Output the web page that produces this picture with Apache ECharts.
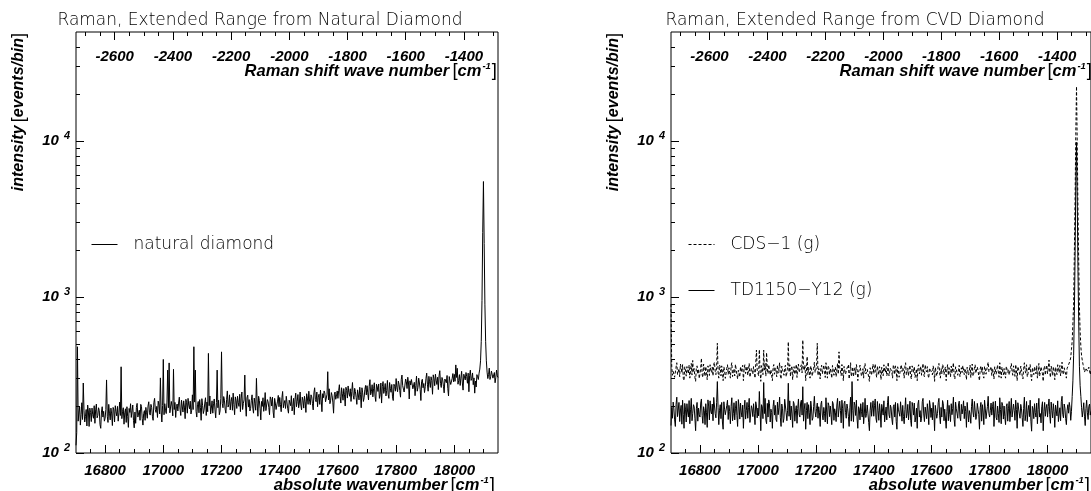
<!DOCTYPE html>
<html><head><meta charset="utf-8">
<script src="https://cdn.jsdelivr.net/npm/echarts@6/dist/echarts.min.js"></script>
<style>html,body{margin:0;padding:0;background:#fff}#c{width:1091px;height:491px}</style>
</head><body><div id="c"></div>
<script>
// ---- data (absolute wavenumber grid: xStart + i*xStep, cm^-1; 20 bins per row = 50 cm^-1) ----
const xStart = 16700, xStep = 2.5;
const laserWavenumber = 19433;
const natural = [
112,135,480,160,183,197,151,176,210,164,281,188,158,171,190,149,203,186,148,194,
182,159,194,176,167,201,155,189,206,168,174,195,187,152,144,183,198,170,185,160,
167,190,294,172,157,205,180,163,194,178,150,196,189,158,201,184,173,199,160,181,
212,174,357,166,185,195,153,181,192,157,198,172,146,193,182,207,169,186,203,162,
145,183,155,196,208,170,174,188,162,205,199,166,151,179,187,162,196,181,167,200,
213,181,175,205,196,172,162,210,224,190,182,199,169,215,203,178,303,186,158,201,
398,176,207,188,179,212,340,195,378,181,186,214,200,173,344,190,211,169,198,206,
186,209,228,191,174,218,200,183,216,197,166,221,210,180,224,203,192,215,178,188,
236,190,480,212,340,185,170,204,214,181,220,196,162,223,202,179,188,209,226,174,
212,184,435,201,232,178,194,216,180,207,222,189,168,211,340,195,218,176,186,224,
445,208,195,230,218,191,180,221,250,197,204,236,189,214,227,188,242,205,176,229,
216,193,231,210,199,238,184,225,246,190,208,219,316,203,172,226,235,197,220,186,
193,218,236,194,180,225,207,188,301,209,172,231,217,192,163,214,199,226,185,203,
244,187,191,220,213,196,176,229,221,200,228,183,168,224,209,190,195,215,234,198,
227,204,184,226,248,195,208,217,193,231,237,192,180,218,223,201,233,186,199,224,
176,221,242,198,214,237,195,209,246,203,189,228,218,194,231,213,182,240,225,205,
249,215,204,236,229,207,189,243,262,220,213,246,198,228,238,205,253,219,184,240,
226,250,242,213,209,238,332,219,258,207,218,244,233,212,180,236,246,221,231,250,
224,251,274,230,209,262,240,218,259,236,200,264,252,225,269,243,231,258,214,247,
283,233,221,260,248,227,205,254,257,219,264,238,195,262,243,214,226,255,271,236,
270,243,219,268,295,236,247,274,229,258,282,231,214,276,265,248,277,224,237,281,
209,266,287,241,255,279,232,251,292,238,224,283,260,245,275,229,217,276,267,249,
300,262,247,289,276,251,228,295,316,270,257,246,239,298,287,259,306,281,222,290,
273,296,292,258,252,284,233,270,311,249,263,302,281,256,217,288,297,262,279,244,
266,301,325,276,249,310,286,263,308,291,238,317,300,270,320,293,275,306,255,312,
337,279,263,305,294,268,243,298,306,282,314,260,232,309,289,275,269,301,323,286,
319,288,367,305,349,276,292,318,271,302,334,281,253,320,313,294,328,309,280,325,
247,315,340,292,301,326,274,303,242,289,265,318,308,296,325,345,390,520,950,2600,
5500,2200,900,520,390,330,300,318,350,296,310,335,345,302,296,328,282,305,340,312,
305];
const cds1 = [
900,360,315,334,342,306,298,355,379,318,325,348,308,372,352,326,369,301,291,357,
342,311,358,337,322,366,302,340,375,316,392,330,348,305,288,351,362,320,345,300,
322,351,405,318,305,372,338,310,358,333,295,362,348,314,368,339,328,356,312,370,
382,335,318,356,505,329,302,366,355,312,362,330,291,357,338,301,322,349,368,319,
352,327,302,361,379,309,332,347,312,370,365,318,298,339,348,307,358,331,322,365,
291,346,368,323,338,360,315,342,375,306,308,351,342,320,358,334,302,371,457,340,
345,312,460,335,288,363,348,318,457,340,375,311,440,349,322,368,358,316,342,333,
291,356,369,320,352,338,308,367,325,347,379,313,298,361,342,330,315,351,365,308,
312,343,516,329,368,310,348,362,295,341,358,319,338,370,305,352,372,328,322,357,
368,326,530,352,338,367,291,336,415,318,355,330,302,361,345,311,318,349,382,328,
322,357,505,314,348,330,298,352,365,321,312,366,332,305,379,339,302,364,352,318,
348,331,302,364,358,315,342,355,308,341,375,320,445,350,338,313,369,340,291,359,
365,320,315,349,342,368,298,334,379,309,325,356,308,339,352,317,369,345,291,330,
342,366,358,311,322,347,302,360,375,321,328,343,348,307,288,352,362,315,345,371,
322,344,372,326,305,361,338,317,358,336,295,354,348,313,368,340,328,358,312,329,
382,312,318,349,345,330,302,368,355,319,362,340,291,357,338,306,322,352,368,333,
352,338,302,360,379,316,332,351,312,344,365,309,298,362,348,327,358,305,322,346,
291,355,368,322,338,359,315,341,375,318,308,367,342,331,358,314,302,350,348,336,
345,317,362,339,288,354,348,312,328,363,375,326,302,347,322,370,358,318,342,356,
291,344,369,315,352,330,308,361,325,349,379,311,298,357,342,325,315,342,365,309,
312,352,328,363,368,318,348,332,295,355,358,316,338,366,305,343,372,311,322,349,
368,325,318,356,338,310,291,347,362,329,355,312,302,359,345,320,318,363,382,331,
322,346,358,314,348,330,298,357,365,320,312,367,332,306,379,338,302,355,352,317,
348,321,302,360,358,328,342,316,308,354,375,333,315,362,338,310,369,340,291,358,
365,330,315,361,342,312,298,347,379,336,325,368,308,322,352,340,369,314,291,352,
342,318,358,339,322,363,302,331,375,311,328,357,348,322,288,349,362,316,345,366,
322,349,394,330,305,361,338,314,358,336,295,355,348,318,368,341,328,364,312,338,
382,329,318,352,345,320,302,349,355,368,372,390,410,460,520,680,900,1900,4200,11000,
22400,9500,3600,1700,860,600,480,420,392,370,352,330,338,350,358,335,326,355,345,318,
340];
const td1150 = [
150,196,167,212,192,163,148,205,228,171,176,211,159,186,202,153,218,177,144,208,
191,158,207,183,170,217,154,189,224,161,179,204,198,167,139,192,211,160,194,176,
170,209,222,174,155,198,187,152,207,181,146,219,200,163,216,185,178,206,161,227,
231,179,168,210,287,195,152,188,204,166,211,158,142,213,191,176,172,201,218,164,
202,185,154,199,226,161,179,210,163,192,215,174,148,220,198,165,209,183,170,203,
144,190,218,165,187,211,167,196,224,157,159,201,192,171,207,180,152,213,200,168,
194,173,248,186,139,204,198,166,283,179,224,162,154,208,170,219,207,158,191,182,
144,199,218,175,202,164,159,212,176,195,228,168,148,206,192,157,167,221,215,181,
161,188,280,172,216,163,200,178,146,214,207,160,187,201,155,193,222,176,170,209,
218,175,266,160,191,208,142,187,211,166,204,181,152,215,194,162,168,199,231,184,
170,193,209,167,198,181,148,205,215,175,163,196,179,158,226,183,154,210,202,171,
200,176,152,214,207,162,192,181,159,203,224,170,167,215,187,156,218,192,144,207,
215,182,167,206,192,171,148,195,228,160,287,188,159,212,202,174,218,165,144,198,
191,163,207,185,170,211,154,178,224,169,179,203,198,157,139,188,211,172,194,216,
172,201,222,168,157,214,187,162,207,183,146,205,200,175,216,158,178,197,163,210,
231,176,168,203,194,165,152,198,204,170,211,159,142,208,191,181,172,213,218,160,
202,171,154,190,226,168,179,205,163,186,215,162,148,211,198,175,209,158,170,194,
144,206,218,170,187,158,167,213,224,178,159,197,192,166,207,183,152,217,200,169,
194,163,211,180,139,202,198,167,179,210,224,173,154,196,170,217,207,161,191,186,
144,185,218,161,202,177,159,207,176,193,228,164,148,212,192,180,167,203,215,170,
161,205,178,192,216,166,200,184,146,211,207,158,187,176,155,199,222,183,170,214,
218,164,172,208,191,177,142,195,211,160,204,183,152,218,194,166,168,199,231,179,
170,188,209,175,198,213,148,183,215,169,163,200,179,157,226,190,154,211,202,165,
200,171,152,198,207,160,192,214,159,186,224,170,167,206,187,162,218,190,144,210,
215,178,167,205,192,169,148,193,228,161,176,214,159,187,202,171,218,160,138,199,
191,166,207,182,170,209,154,190,224,170,179,156,198,213,139,184,211,172,194,205,
170,199,222,176,155,212,187,168,207,184,146,203,200,173,216,159,178,195,161,213,
231,177,168,206,194,166,152,188,204,180,211,196,162,185,230,290,420,780,1800,5200,
9800,4200,1500,700,360,270,230,195,170,188,210,172,150,193,218,181,164,199,206,175,
185];
const seriesNames = ['natural diamond', 'CDS\u22121 (g)', 'TD1150\u2212Y12 (g)'];
const absTickLabels = [16800,17000,17200,17400,17600,17800,18000];
const shiftTickLabels = [-2600,-2400,-2200,-2000,-1800,-1600,-1400];
const yDecadeExponents = [2,3,4];
const xMin = 16700, xMax = 18150, yMin = 100, yMax = 50000;
const panelTitles = ['Raman, Extended Range from Natural Diamond', 'Raman, Extended Range from CVD Diamond'];

// ---- helpers ----
const pairs = arr => arr.map((v, i) => [xStart + i * xStep, v]);
const absMinor = []; for (let v = 16750; v < xMax; v += 50) absMinor.push(v);
const shiftMinor = []; for (let v = -2700; v <= -1300; v += 50) shiftMinor.push(v);
const yLogMax = Math.log10(yMax);
const yMinorLog = [];
[100, 1000, 10000].forEach(d => { for (let k = 2; k <= 9; k++) { if (k * d < yMax) yMinorLog.push(Math.log10(k * d)); } });

const LBL = { fontFamily: 'Liberation Sans', fontStyle: 'italic', fontWeight: 'bold', fontSize: 15, color: '#000' };
const THIN = { fontFamily: 'DejaVu Sans', fontWeight: 200, color: '#000' };
const tickLine = { color: '#000', width: 1 };
const plain = v => String(v);

function nameRich(size) {
  return { b: Object.assign({}, LBL, { fontSize: size, lineHeight: 18, fill: '#000' }),
    n: { fontFamily: 'Liberation Sans', fontSize: size + 2, lineHeight: 18, fill: '#000' },
    s: Object.assign({}, LBL, { fontSize: 9.5, lineHeight: 9, padding: [0, 1, 9, 1], fill: '#000' }) };
}

const grids = [], xAxes = [], yAxes = [], series = [], graphics = [];
[76, 671].forEach((gl, p) => {
  grids.push({ left: gl, top: 32, width: 422, height: 421, show: true, borderColor: '#000', borderWidth: 1, backgroundColor: 'transparent' });
  const base = { gridIndex: p, type: 'value', splitLine: { show: false }, axisLine: { show: false } };
  xAxes.push(Object.assign({}, base, { position: 'bottom', min: xMin, max: xMax,
    axisTick: { show: true, inside: true, length: 8, customValues: absTickLabels, lineStyle: tickLine },
    axisLabel: Object.assign({ show: true, margin: 10, customValues: absTickLabels, formatter: plain }, LBL) }));
  xAxes.push(Object.assign({}, base, { position: 'bottom', min: xMin, max: xMax,
    axisTick: { show: true, inside: true, length: 4, customValues: absMinor, lineStyle: tickLine },
    axisLabel: { show: false } }));
  xAxes.push(Object.assign({}, base, { position: 'top', min: xMin - laserWavenumber, max: xMax - laserWavenumber,
    axisTick: { show: true, inside: true, length: 8, customValues: shiftTickLabels, lineStyle: tickLine },
    axisLabel: Object.assign({ show: true, inside: true, margin: 17, customValues: shiftTickLabels, formatter: plain }, LBL) }));
  xAxes.push(Object.assign({}, base, { position: 'top', min: xMin - laserWavenumber, max: xMax - laserWavenumber,
    axisTick: { show: true, inside: true, length: 4, customValues: shiftMinor, lineStyle: tickLine },
    axisLabel: { show: false } }));
  yAxes.push({ gridIndex: p, type: 'log', logBase: 10, min: yMin, max: yMax, position: 'left',
    axisLine: { show: false }, axisTick: { show: false }, axisLabel: { show: false }, splitLine: { show: false } });
  yAxes.push({ gridIndex: p, type: 'value', min: 2, max: yLogMax, position: 'left',
    axisLine: { show: false }, splitLine: { show: false },
    axisTick: { show: true, inside: true, length: 8, customValues: yDecadeExponents, lineStyle: tickLine },
    axisLabel: { show: true, margin: 6, customValues: yDecadeExponents,
      formatter: v => '{b|10}{s|' + Math.round(v) + '}',
      rich: { b: Object.assign({ lineHeight: 22 }, LBL),
              s: Object.assign({}, LBL, { fontSize: 11, lineHeight: 11, padding: [0, 0, 11, 5] }) } } });
  yAxes.push({ gridIndex: p, type: 'value', min: 2, max: yLogMax, position: 'left',
    axisLine: { show: false }, splitLine: { show: false },
    axisTick: { show: true, inside: true, length: 4, customValues: yMinorLog, lineStyle: tickLine },
    axisLabel: { show: false } });
  const dx = gl - 76;
  graphics.push({ type: 'text', x: 260 + dx, y: 21, style: { text: panelTitles[p], align: 'center', verticalAlign: 'middle', fontSize: 17, fontFamily: 'DejaVu Sans', fontWeight: 200, fill: '#000' } });
  graphics.push({ type: 'text', x: 497 + dx, y: 71, style: { text: '{b|Raman shift wave number} {n|[}{b|cm}{s|-1}{n|]}', rich: nameRich(16.5), align: 'right', verticalAlign: 'middle' } });
  graphics.push({ type: 'text', x: 495 + dx, y: 485, style: { text: '{b|absolute wavenumber} {n|[}{b|cm}{s|-1}{n|]}', rich: nameRich(16.5), align: 'right', verticalAlign: 'middle' } });
  graphics.push({ type: 'text', x: 19 + dx, y: 33, rotation: Math.PI / 2, style: { text: '{b|intensity} {n|[}{b|events/bin}{n|]}', rich: nameRich(16), align: 'right', verticalAlign: 'middle' } });
});

const lineBase = { type: 'line', symbol: 'none', showSymbol: false, animation: false, clip: true };
series.push(Object.assign({}, lineBase, { name: seriesNames[0], xAxisIndex: 0, yAxisIndex: 0, data: pairs(natural), lineStyle: { color: '#000', width: 1 }, itemStyle: { color: '#000' } }));
series.push(Object.assign({}, lineBase, { name: seriesNames[1], xAxisIndex: 4, yAxisIndex: 3, data: pairs(cds1), lineStyle: { color: '#000', width: 1, type: [3, 2] }, itemStyle: { color: '#000' } }));
series.push(Object.assign({}, lineBase, { name: seriesNames[2], xAxisIndex: 4, yAxisIndex: 3, data: pairs(td1150), lineStyle: { color: '#000', width: 1 }, itemStyle: { color: '#000' } }));

const legendText = Object.assign({ fontSize: 17, lineHeight: 14, rich: { g: { width: 11 } } }, THIN);
const legendBase = { orient: 'vertical', itemWidth: 26, itemHeight: 14, padding: 0, selectedMode: false,
  textStyle: legendText, formatter: n => '{g|}' + n,
  itemStyle: { opacity: 0, color: 'rgba(0,0,0,0)', borderWidth: 0 },
  lineStyle: { color: '#000', width: 1 } };
const chart = echarts.init(document.getElementById('c'), null, { renderer: 'canvas' });
chart.setOption({
  animation: false,
  backgroundColor: '#fff',
  grid: grids, xAxis: xAxes, yAxis: yAxes, series: series,
  legend: [
    Object.assign({}, legendBase, { data: [seriesNames[0]], left: 91, top: 236 }),
    Object.assign({}, legendBase, { data: [seriesNames[1], seriesNames[2]], left: 688, top: 236, itemGap: 29 })
  ],
  graphic: graphics
});
</script></body></html>
